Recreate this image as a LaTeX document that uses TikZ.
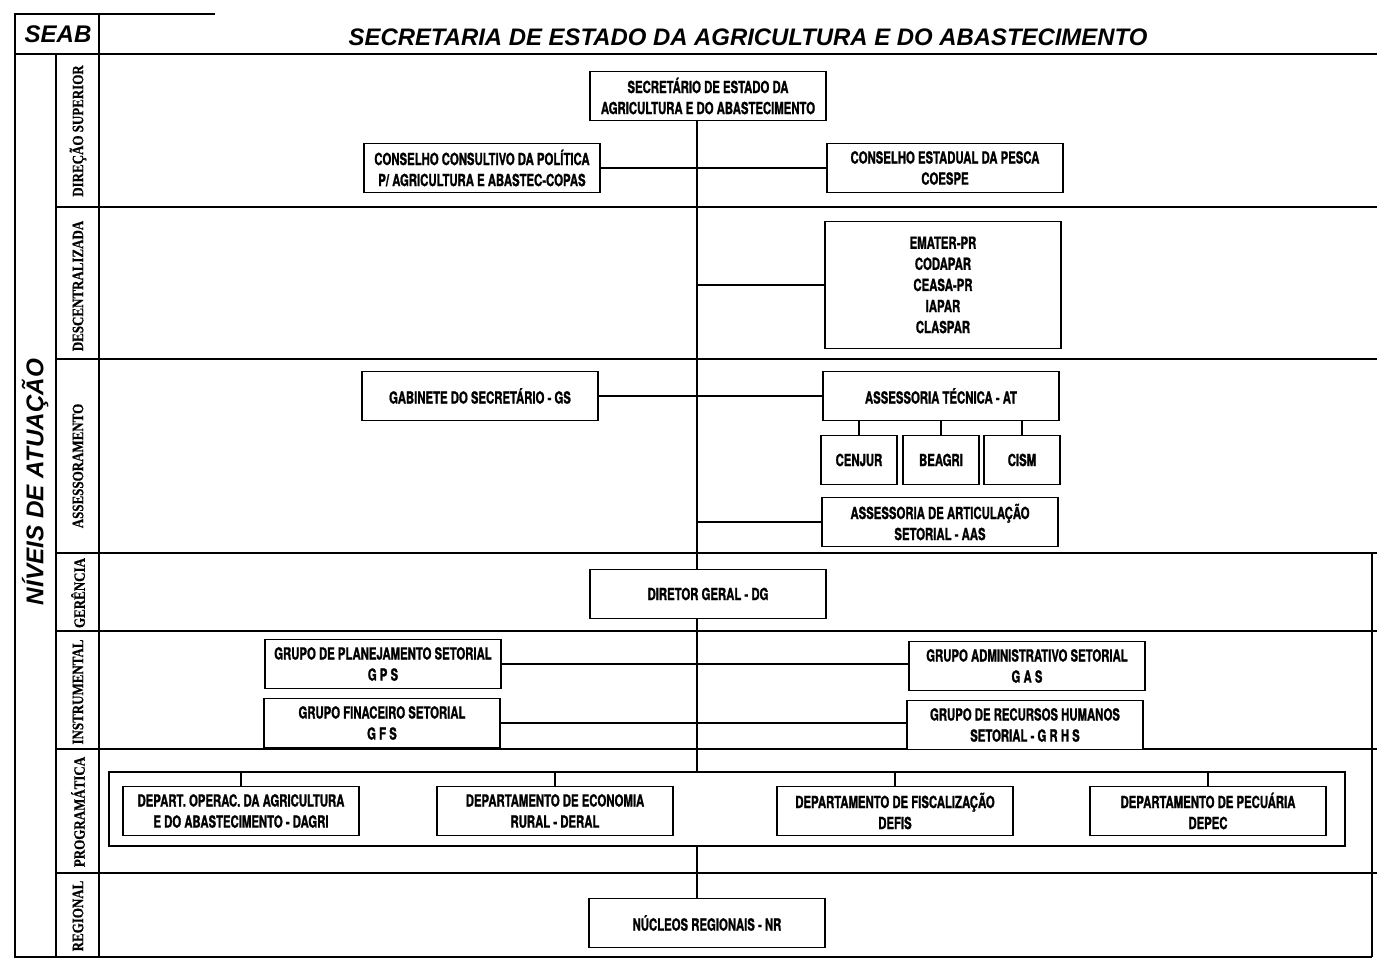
\documentclass[tikz,border=0pt]{standalone}
\usepackage{fontspec}
\setmainfont{Liberation Sans}
\newfontfamily\boxfont{TeX Gyre Heros}[FakeStretch=0.68, FakeBold=1.2]
\newfontfamily\lvlfont{Liberation Serif}[FakeStretch=0.82, FakeBold=0.6]
\newfontfamily\headfont{Liberation Sans}

\begin{document}
\begin{tikzpicture}[x=0.02cm, y=-0.02cm,
    orgbox/.style={draw, fill=white, line width=1.1pt, align=center,
        minimum width=4.72cm, minimum height=0.98cm, inner sep=2pt,
        font=\boxfont\bfseries\fontsize{9.5}{12}\selectfont},
    subbox/.style={orgbox, minimum width=1.52cm},
    lvl/.style={rotate=90, font=\lvlfont\bfseries\fontsize{9}{10}\selectfont},
    link/.style={line width=0.8pt},
    levelrule/.style={line width=1.2pt}]
    \useasboundingbox (0,0) rectangle (1377,962);

    % frame and levels
    \draw[levelrule] (215,14) -- (15,14) -- (15,957) -- (1372,957);
    \draw[levelrule] (1372,553) -- (1372,957);
    \draw[levelrule] (99,14) -- (99,957);
    \draw[levelrule] (56,54) -- (56,957);
    \draw[levelrule] (15,54) -- (1377,54);
    \foreach \yy in {207,359,553,631,749,873}
        \draw[levelrule] (56,\yy) -- (1377,\yy);

    \node[font=\headfont\bfseries\itshape\fontsize{13.7}{16}\selectfont] (seab) at (58,34) {SEAB};
    \node[font=\headfont\bfseries\itshape\fontsize{13.6}{16}\selectfont] (title) at (748,37)
        {SECRETARIA DE ESTADO DA AGRICULTURA E DO ABASTECIMENTO};
    \node[rotate=90, font=\headfont\bfseries\itshape\fontsize{13.8}{16}\selectfont] (niveis) at (35,482)
        {NÍVEIS DE ATUAÇÃO};

    \node[lvl] (ldir) at (78,131) {DIREÇÃO SUPERIOR};
    \node[lvl] (ldesc) at (78,286) {DESCENTRALIZADA};
    \node[lvl] (lass) at (78,466) {ASSESSORAMENTO};
    \node[lvl] (lger) at (78,593) {GERÊNCIA};
    \node[lvl] (linst) at (78,692) {INSTRUMENTAL};
    \node[lvl] (lprog) at (78,812) {PROGRAMÁTICA};
    \node[lvl] (lreg) at (78,916) {REGIONAL};

    % boxes
    \coordinate (trk) at (697,0);
    \node[orgbox] (sec) at (708,96) {SECRETÁRIO DE ESTADO DA\\AGRICULTURA E DO ABASTECIMENTO};
    \node[orgbox] (copas) at (482,168) {CONSELHO CONSULTIVO DA POLÍTICA\\P/ AGRICULTURA E ABASTEC-COPAS};
    \node[orgbox] (coespe) at (945,168) {CONSELHO ESTADUAL DA PESCA\\COESPE};
    \node[orgbox, minimum height=2.54cm] (desc) at (943,285) {EMATER-PR\\CODAPAR\\CEASA-PR\\IAPAR\\CLASPAR};
    \node[orgbox] (gs) at (480,396) {GABINETE DO SECRETÁRIO - GS};
    \node[orgbox] (at) at (941,396) {ASSESSORIA TÉCNICA - AT};
    \node[subbox] (cenjur) at (859,460) {CENJUR};
    \node[subbox] (beagri) at (941,460) {BEAGRI};
    \node[subbox] (cism) at (1022,460) {CISM};
    \node[orgbox] (aas) at (940,522) {ASSESSORIA DE ARTICULAÇÃO\\SETORIAL - AAS};
    \node[orgbox] (dg) at (708,594) {DIRETOR GERAL - DG};
    \node[orgbox] (gps) at (383,664) {GRUPO DE PLANEJAMENTO SETORIAL\\G P S};
    \node[orgbox] (gas) at (1027,666) {GRUPO ADMINISTRATIVO SETORIAL\\G A S};
    \node[orgbox] (gfs) at (382,723) {GRUPO FINACEIRO SETORIAL\\G F S};
    \node[orgbox] (grhs) at (1025,725) {GRUPO DE RECURSOS HUMANOS\\SETORIAL - G R H S};
    \node[draw, line width=1.1pt, minimum width=24.72cm, minimum height=1.48cm] (prog) at (727,809) {};
    \node[orgbox] (dagri) at (241,811) {DEPART. OPERAC. DA AGRICULTURA\\E DO ABASTECIMENTO - DAGRI};
    \node[orgbox] (deral) at (555,811) {DEPARTAMENTO DE ECONOMIA\\RURAL - DERAL};
    \node[orgbox] (defis) at (895,811) {DEPARTAMENTO DE FISCALIZAÇÃO\\DEFIS};
    \node[orgbox] (depec) at (1208,811) {DEPARTAMENTO DE PECUÁRIA\\DEPEC};
    \node[orgbox] (nr) at (707,923) {NÚCLEOS REGIONAIS - NR};

    % connectors
    \draw[link] (sec.south -| trk) -- (dg.north -| trk);
    \draw[link] (dg.south -| trk) -- (prog.north -| trk);
    \draw[link] (prog.south -| trk) -- (nr.north -| trk);
    \draw[link] (copas.east) -- (coespe.west);
    \draw[link] (desc.west) -- (desc.west -| trk);
    \draw[link] (gs.east) -- (at.west);
    \foreach \s in {cenjur,beagri,cism}
        \draw[link] (\s.north) -- (\s.north |- at.south);
    \draw[link] (aas.west) -- (aas.west -| trk);
    \draw[link] (gps.east) -- (gas.west |- gps.east);
    \draw[link] (gfs.east) -- (grhs.west |- gfs.east);
    \foreach \d in {dagri,deral,defis,depec}
        \draw[link] (\d.north) -- (\d.north |- prog.north);
\end{tikzpicture}
\end{document}
